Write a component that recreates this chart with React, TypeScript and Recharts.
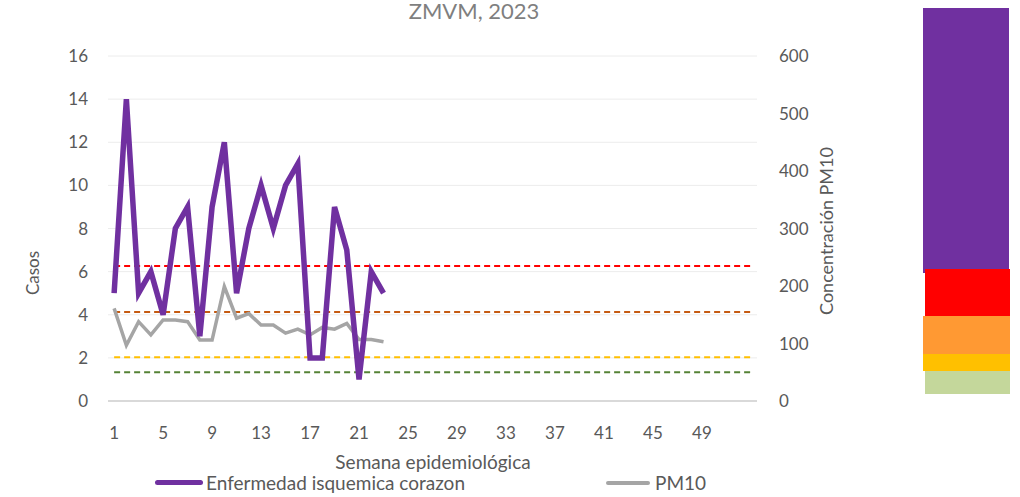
import {
  CartesianGrid,
  Line,
  LineChart,
  ReferenceLine,
  XAxis,
  YAxis,
} from "recharts";

const weeks = Array.from({ length: 53 }, (_, i) => i + 1);

const casos = [
  5, 14, 5, 6, 4, 8, 9, 3, 9, 12, 5, 8, 10, 8, 10, 11, 2, 2, 9, 7, 1, 6, 5,
];

const pm10 = [
  161, 97, 138, 115, 141, 141, 138, 106, 106, 199, 144, 152, 132, 132, 118,
  125, 115, 128, 125, 135, 107, 107, 103,
];

// umbrales del indice de calidad del aire (PM10)
const thresholds = [
  { value: 235, color: "#ff0000" },
  { value: 155, color: "#c55a11" },
  { value: 76, color: "#ffc000" },
  { value: 50, color: "#548235" },
];

const leftTicks = [0, 2, 4, 6, 8, 10, 12, 14, 16];
const rightTicks = [0, 100, 200, 300, 400, 500, 600];

const data = weeks.map((w, i) => ({
  week: w,
  casos: i < casos.length ? casos[i] : null,
  pm10: i < pm10.length ? pm10[i] : null,
}));

const font = "Lato, 'Open Sans', sans-serif";
const gray = "#595959";

const scaleBlocks = [
  { color: "#7030a0", left: 923, top: 8, width: 86, height: 265 },
  { color: "#ff0000", left: 925, top: 269, width: 85, height: 47 },
  { color: "#ff9933", left: 923, top: 316, width: 87, height: 38 },
  { color: "#ffc000", left: 923, top: 354, width: 87, height: 17 },
  { color: "#c4d79b", left: 925, top: 371, width: 85, height: 23 },
];

export default function App() {
  return (
    <div
      style={{
        position: "fixed",
        left: 0,
        top: 0,
        width: 1020,
        height: 497,
        background: "#fff",
        fontFamily: font,
        overflow: "hidden",
      }}
    >
      <div
        style={{
          position: "absolute",
          left: 0,
          width: 948,
          top: 0,
          lineHeight: "22px",
          textAlign: "center",
          fontSize: 22,
          color: "#7f7f7f",
        }}
      >
        ZMVM, 2023
      </div>

      <LineChart
        width={1020}
        height={497}
        data={data}
        margin={{ top: 56, right: 193, left: 40, bottom: 66 }}
        style={{ position: "absolute", left: 0, top: 0 }}
      >
        <CartesianGrid yAxisId="left" vertical={false} stroke="#ececec" />
        <XAxis
          dataKey="week"
          scale="band"
          interval={3}
          axisLine={{ stroke: "#d9d9d9", strokeWidth: 2 }}
          tickLine={false}
          tick={{ fill: gray, fontSize: 17, fontFamily: font }}
          tickFormatter={(v) => (v === 53 ? "" : String(v))}
          tickMargin={20}
          height={30}
        />
        <YAxis
          yAxisId="left"
          domain={[0, 16]}
          ticks={leftTicks}
          axisLine={false}
          tickLine={false}
          tick={{ fill: gray, fontSize: 17, fontFamily: font }}
          tickMargin={14}
          width={68}
        />
        <YAxis
          yAxisId="right"
          orientation="right"
          domain={[0, 600]}
          ticks={rightTicks}
          axisLine={false}
          tickLine={false}
          tick={{ fill: gray, fontSize: 17, fontFamily: font, textAnchor: "start" }}
          tickMargin={16}
          width={70}
        />
        {thresholds.map((t) => (
          <ReferenceLine
            key={t.value}
            yAxisId="right"
            segment={[
              { x: 1, y: t.value },
              { x: 53, y: t.value },
            ]}
            stroke={t.color}
            strokeWidth={2}
            strokeDasharray="6 4"
          />
        ))}
        <Line
          yAxisId="right"
          dataKey="pm10"
          stroke="#a5a5a5"
          strokeWidth={3.5}
          dot={false}
          isAnimationActive={false}
        />
        <Line
          yAxisId="left"
          dataKey="casos"
          stroke="#7030a0"
          strokeWidth={5.5}
          dot={false}
          isAnimationActive={false}
        />
      </LineChart>

      <div
        style={{
          position: "absolute",
          left: 32,
          top: 273,
          transform: "translate(-50%, -50%) rotate(-90deg)",
          fontSize: 17,
          color: gray,
          whiteSpace: "nowrap",
        }}
      >
        Casos
      </div>
      <div
        style={{
          position: "absolute",
          left: 826,
          top: 231,
          transform: "translate(-50%, -50%) rotate(-90deg)",
          fontSize: 18,
          color: gray,
          whiteSpace: "nowrap",
        }}
      >
        Concentración PM10
      </div>
      <div
        style={{
          position: "absolute",
          left: 433,
          top: 461,
          transform: "translate(-50%, -50%)",
          fontSize: 19,
          color: gray,
          whiteSpace: "nowrap",
        }}
      >
        Semana epidemiológica
      </div>

      <div
        style={{
          position: "absolute",
          left: 155,
          top: 471,
          display: "flex",
          alignItems: "center",
          fontSize: 19,
          color: gray,
          whiteSpace: "nowrap",
        }}
      >
        <span
          style={{
            display: "inline-block",
            width: 48,
            height: 5,
            borderRadius: 3,
            background: "#7030a0",
            marginRight: 3,
          }}
        />
        Enfermedad isquemica corazon
      </div>
      <div
        style={{
          position: "absolute",
          left: 606,
          top: 471,
          display: "flex",
          alignItems: "center",
          fontSize: 19,
          color: gray,
          whiteSpace: "nowrap",
        }}
      >
        <span
          style={{
            display: "inline-block",
            width: 44,
            height: 4,
            borderRadius: 2,
            background: "#a5a5a5",
            marginRight: 5,
          }}
        />
        PM10
      </div>

      {scaleBlocks.map((b) => (
        <div
          key={b.color}
          style={{
            position: "absolute",
            left: b.left,
            top: b.top,
            width: b.width,
            height: b.height,
            background: b.color,
          }}
        />
      ))}
    </div>
  );
}
